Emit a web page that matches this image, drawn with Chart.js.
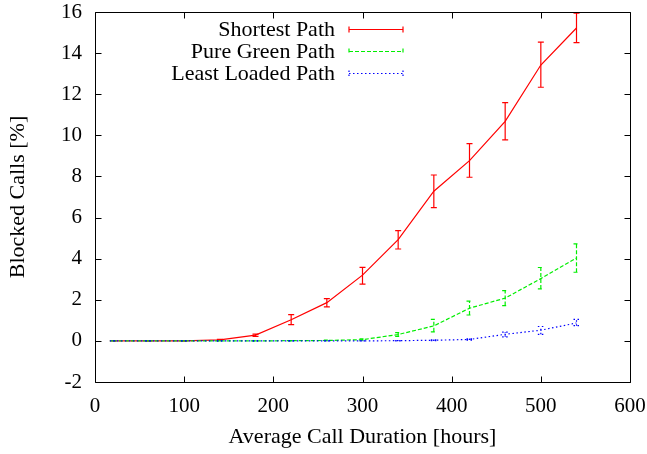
<!DOCTYPE html>
<html>
<head>
<meta charset="utf-8">
<script src="https://cdn.jsdelivr.net/npm/chart.js@4.4.1/dist/chart.umd.min.js"></script>
<style>
  html, body { margin: 0; padding: 0; background: #fff; }
  #wrap { width: 647px; height: 454px; }
</style>
</head>
<body>
<div id="wrap"><canvas id="c" width="647" height="454"></canvas></div>
<script>
// ---- data ----
const durations = [20, 60, 100, 140, 180, 220, 260, 300, 340, 380, 420, 460, 500, 540];

const shortest     = [0, 0, 0, 0.05, 0.28, 1.03, 1.86, 3.20, 4.93, 7.28, 8.77, 10.68, 13.42, 15.22];
const shortestLow  = [0, 0, 0, 0.03, 0.22, 0.79, 1.65, 2.76, 4.47, 6.48, 7.96,  9.78, 12.34, 14.51];
const shortestHigh = [0, 0, 0, 0.07, 0.33, 1.28, 2.06, 3.58, 5.36, 8.07, 9.60, 11.59, 14.53, 15.94];

const green     = [0, 0, 0, 0, 0, 0.01, 0.02, 0.06, 0.31, 0.73, 1.59, 2.08, 3.03, 4.03];
const greenLow  = [0, 0, 0, 0, 0, 0.00, 0.01, 0.03, 0.22, 0.44, 1.26, 1.72, 2.53, 3.34];
const greenHigh = [0, 0, 0, 0, 0, 0.02, 0.04, 0.10, 0.40, 1.05, 1.93, 2.45, 3.57, 4.72];

const leastLoaded     = [0, 0, 0, 0, 0, 0, 0, 0, 0.01, 0.03, 0.07, 0.32, 0.52, 0.87];
const leastLoadedLow  = [0, 0, 0, 0, 0, 0, 0, 0, 0.00, 0.01, 0.04, 0.20, 0.32, 0.74];
const leastLoadedHigh = [0, 0, 0, 0, 0, 0, 0, 0, 0.02, 0.05, 0.10, 0.43, 0.70, 1.05];

const seriesNames = ['Shortest Path', 'Pure Green Path', 'Least Loaded Path'];
const xTicks = [0, 100, 200, 300, 400, 500, 600];
const yTicks = [-2, 0, 2, 4, 6, 8, 10, 12, 14, 16];
const xTitle = 'Average Call Duration [hours]';
const yTitle = 'Blocked Calls [%]';

// ---- styles ----
const FONT = "'Liberation Serif', 'Times New Roman', serif";
const FSIZE = 22;
const TICKSIZE = 21;
const styles = [
  { color: '#ff0000', dash: [] },
  { color: '#00ee00', dash: [4, 2] },
  { color: '#0000ff', dash: [1.5, 2.5] }
];
const errLows = [shortestLow, greenLow, leastLoadedLow];
const errHighs = [shortestHigh, greenHigh, leastLoadedHigh];
const values = [shortest, green, leastLoaded];

function pts(arr) { return durations.map((d, i) => ({ x: d, y: arr[i] })); }

const datasets = values.map((v, i) => ({
  label: seriesNames[i],
  data: pts(v),
  borderColor: styles[i].color,
  borderDash: styles[i].dash,
  borderWidth: 1.2,
  pointRadius: 0,
  fill: false,
  tension: 0,
  order: 3 - i
}));

const CAP = 3;

const overlay = {
  id: 'overlay',
  afterDatasetDraw(chart, args) {
    const i = args.index;
    const xs = chart.scales.x, ys = chart.scales.y;
    const ctx = chart.ctx;
    ctx.save();
    ctx.strokeStyle = styles[i].color;
    ctx.lineWidth = 1.2;
    ctx.setLineDash(styles[i].dash);
    durations.forEach((d, k) => {
      const px = xs.getPixelForValue(d);
      const lo = ys.getPixelForValue(errLows[i][k]);
      const hi = ys.getPixelForValue(errHighs[i][k]);
      ctx.beginPath();
      ctx.moveTo(px, lo); ctx.lineTo(px, hi);
      ctx.moveTo(px - CAP, lo); ctx.lineTo(px + CAP, lo);
      ctx.moveTo(px - CAP, hi); ctx.lineTo(px + CAP, hi);
      ctx.stroke();
    });
    ctx.restore();
  },
  afterDraw(chart) {
    const ctx = chart.ctx;
    const a = chart.chartArea;
    const xs = chart.scales.x, ys = chart.scales.y;
    const L = Math.round(a.left) + 0.5, R = Math.round(a.right) + 0.5;
    const T = Math.round(a.top) + 0.5, B = Math.round(a.bottom) + 0.5;
    ctx.save();
    ctx.strokeStyle = '#000';
    ctx.lineWidth = 1;
    ctx.setLineDash([]);
    ctx.beginPath();
    ctx.rect(L, T, R - L, B - T);
    const TL = 6;
    xTicks.forEach(v => {
      const p = Math.round(xs.getPixelForValue(v)) + 0.5;
      ctx.moveTo(p, B); ctx.lineTo(p, B - TL);
      ctx.moveTo(p, T); ctx.lineTo(p, T + TL);
    });
    yTicks.forEach(v => {
      const p = Math.round(ys.getPixelForValue(v)) + 0.5;
      ctx.moveTo(L, p); ctx.lineTo(L + TL, p);
      ctx.moveTo(R, p); ctx.lineTo(R - TL, p);
    });
    ctx.stroke();

    // legend (gnuplot-style key)
    const sx1 = a.right - 227, sx0 = sx1 - 54, tx = sx0 - 14;
    const rowY = [a.top + 17, a.top + 39, a.top + 61];
    ctx.font = FSIZE + 'px ' + FONT;
    ctx.textAlign = 'right';
    ctx.textBaseline = 'middle';
    ctx.fillStyle = '#000';
    seriesNames.forEach((n, i) => {
      const y = Math.round(rowY[i]) + 0.5;
      ctx.fillText(n, tx, y + 1);
      ctx.strokeStyle = styles[i].color;
      ctx.lineWidth = 1.2;
      ctx.setLineDash(styles[i].dash);
      ctx.beginPath();
      ctx.moveTo(sx0, y); ctx.lineTo(sx1, y);
      ctx.moveTo(sx0, y - CAP); ctx.lineTo(sx0, y + CAP);
      ctx.moveTo(sx1, y - CAP); ctx.lineTo(sx1, y + CAP);
      ctx.stroke();
    });
    ctx.restore();
  }
};

function zeroPad(s) {
  s.paddingLeft = 0; s.paddingRight = 0; s.paddingTop = 0; s.paddingBottom = 0;
}

new Chart(document.getElementById('c'), {
  type: 'line',
  data: { datasets },
  options: {
    responsive: false,
    animation: false,
    devicePixelRatio: 1,
    layout: { padding: { top: 12, right: 17, left: 0, bottom: 0 } },
    plugins: { legend: { display: false }, tooltip: { enabled: false } },
    scales: {
      x: {
        type: 'linear', min: 0, max: 600,
        afterFit: s => { s.height = 72; zeroPad(s); },
        afterBuildTicks: s => { s.ticks = xTicks.map(v => ({ value: v })); },
        grid: { display: false, drawTicks: false },
        border: { display: false },
        ticks: { color: '#000', padding: 12, font: { family: FONT, size: TICKSIZE }, maxRotation: 0 },
        title: { display: true, text: xTitle, color: '#000', font: { family: FONT, size: FSIZE }, padding: { top: 0, bottom: 4 } }
      },
      y: {
        type: 'linear', min: -2, max: 16,
        afterFit: s => { s.width = 95; zeroPad(s); },
        afterBuildTicks: s => { s.ticks = yTicks.map(v => ({ value: v })); },
        grid: { display: false, drawTicks: false },
        border: { display: false },
        ticks: { color: '#000', padding: 13, font: { family: FONT, size: TICKSIZE } },
        title: { display: true, text: yTitle, color: '#000', font: { family: FONT, size: FSIZE }, padding: { top: 5, bottom: 0 } }
      }
    }
  },
  plugins: [overlay]
});
</script>
</body>
</html>
